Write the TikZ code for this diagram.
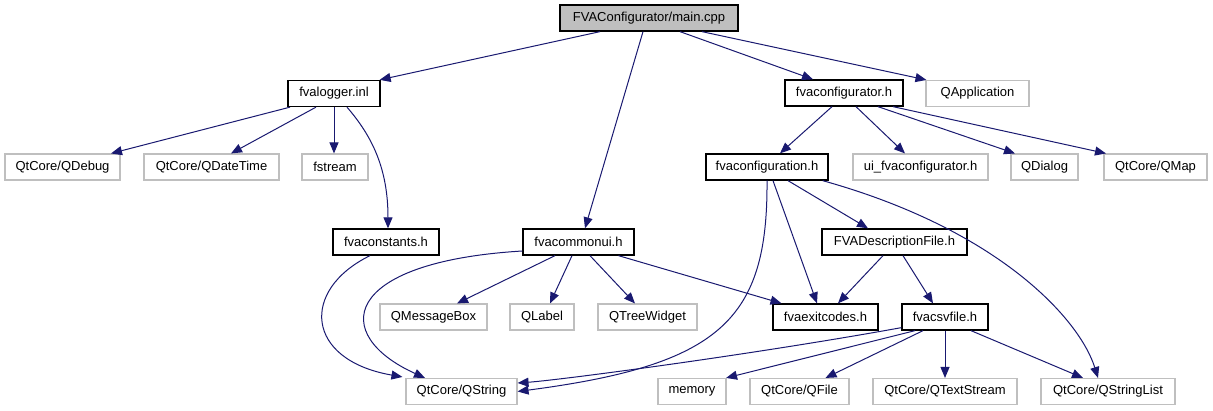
\documentclass[tikz,border=0pt]{standalone}
\usepackage{fontspec}
\setmainfont{Liberation Sans}
\usetikzlibrary{arrows.meta}
\definecolor{edgecol}{HTML}{191970}
\definecolor{lightgr}{HTML}{BFBFBF}
\tikzset{
  filebox/.style={draw=black, line width=1.3pt, inner sep=0pt, minimum height=26pt, font=\fontsize{13}{15}\selectfont, text=black},
  extbox/.style={draw=lightgr, line width=1.1pt, inner sep=0pt, minimum height=26pt, font=\fontsize{13}{15}\selectfont, text=black},
  rootbox/.style={filebox, fill=lightgr},
  dep/.style={draw=edgecol, line width=1pt, -{Triangle[length=11pt,width=9pt]}}
}
\begin{document}
\begin{tikzpicture}[x=1pt, y=-1pt]
\useasboundingbox (0,0) rectangle (1213,411);
% row 0
\node[rootbox, minimum width=178pt] (main) at (649,18) {FVAConfigurator/main.cpp};
% row 1
\node[filebox, minimum width=92pt] (logger) at (334,93.5) {fvalogger.inl};
\node[filebox, minimum width=118pt] (configurator) at (844,93) {fvaconfigurator.h};
\node[extbox, minimum width=103pt] (qapp) at (977.5,93.5) {QApplication};
% row 2
\node[extbox, minimum width=115pt] (qdebug) at (62.5,167) {QtCore/QDebug};
\node[extbox, minimum width=135pt] (qdatetime) at (211.5,167) {QtCore/QDateTime};
\node[extbox, minimum width=66pt] (fstream) at (335,167) {fstream};
\node[filebox, minimum width=122pt] (configuration) at (767,167) {fvaconfiguration.h};
\node[extbox, minimum width=135pt] (uiconf) at (920.5,167) {ui\_fvaconfigurator.h};
\node[extbox, minimum width=67pt] (qdialog) at (1044.5,167) {QDialog};
\node[extbox, minimum width=103pt] (qmap) at (1155.5,167) {QtCore/QMap};
% row 3
\node[filebox, minimum width=106pt] (constants) at (386,242) {fvaconstants.h};
\node[filebox, minimum width=111pt] (commonui) at (578.5,242) {fvacommonui.h};
\node[filebox, minimum width=145pt] (descr) at (894.5,242) {FVADescriptionFile.h};
% row 4
\node[extbox, minimum width=107pt] (qmsgbox) at (433.5,317) {QMessageBox};
\node[extbox, minimum width=64pt] (qlabel) at (542,317) {QLabel};
\node[extbox, minimum width=99pt] (qtree) at (647.5,317) {QTreeWidget};
\node[filebox, minimum width=105pt] (exitcodes) at (825.5,317) {fvaexitcodes.h};
\node[filebox, minimum width=86pt] (csvfile) at (945,317) {fvacsvfile.h};
% row 5
\node[extbox, minimum width=111pt] (qstring) at (461.5,391.5) {QtCore/QString};
\node[extbox, minimum width=68pt] (memory) at (692,391.5) {memory};
\node[extbox, minimum width=99pt] (qfile) at (799.5,391.5) {QtCore/QFile};
\node[extbox, minimum width=144pt] (qtextstream) at (945,391.5) {QtCore/QTextStream};
\node[extbox, minimum width=134pt] (qstringlist) at (1108,391.5) {QtCore/QStringList};

% main.cpp
\draw[dep] ([xshift=-49pt]main.south) -- ([xshift=-1pt]logger.north east);
\draw[dep] ([xshift=-6pt]main.south) -- ([xshift=6.5pt]commonui.north);
\draw[dep] ([xshift=31pt]main.south) -- ([xshift=-31pt]configurator.north);
\draw[dep] ([xshift=53pt]main.south) -- ([xshift=1pt]qapp.north west);
% fvalogger.inl
\draw[dep] ([xshift=-44pt]logger.south) -- ([xshift=48.5pt]qdebug.north);
\draw[dep] ([xshift=-18pt]logger.south) -- ([xshift=19.5pt]qdatetime.north);
\draw[dep] (logger.south) -- (logger.south |- fstream.north);
\draw[dep] ([xshift=13pt]logger.south) .. controls +(25,29) and +(0,-60) .. ([xshift=2pt]constants.north);
% fvaconfigurator.h
\draw[dep] ([xshift=-12pt]configurator.south) -- ([xshift=13pt]configuration.north);
\draw[dep] ([xshift=12pt]configurator.south) -- ([xshift=-15.5pt]uiconf.north);
\draw[dep] ([xshift=34pt]configurator.south) -- ([xshift=-29.5pt]qdialog.north);
\draw[dep] ([xshift=49pt]configurator.south) -- ([xshift=-49.5pt]qmap.north);
% fvaconstants.h
\draw[dep] ([xshift=-16pt]constants.south) .. controls (300,290) and (305,360) .. ([xshift=-3pt,yshift=1pt]qstring.north west);
% fvacommonui.h
\draw[dep] ([yshift=-9pt]commonui.west) .. controls (340,262) and (330,335) .. ([xshift=-36.5pt]qstring.north);
\draw[dep] ([xshift=-23.5pt]commonui.south) -- ([xshift=23.5pt]qmsgbox.north);
\draw[dep] ([xshift=-6.5pt]commonui.south) -- ([xshift=8pt]qlabel.north);
\draw[dep] ([xshift=11.5pt]commonui.south) -- ([xshift=-12.5pt]qtree.north);
\draw[dep] ([xshift=40pt]commonui.south) -- ([xshift=-44pt]exitcodes.north);
% fvaconfiguration.h
\draw[dep] (configuration.south) .. controls (768,320) and (720,365) .. (qstring.east);
\draw[dep] ([xshift=6pt]configuration.south) -- ([xshift=-8.5pt]exitcodes.north);
\draw[dep] ([xshift=21pt]configuration.south) -- ([xshift=-26.5pt]descr.north);
\draw[dep] ([xshift=-6pt]configuration.south east) .. controls (1000,230) and (1080,320) .. ([xshift=-10pt]qstringlist.north);
% FVADescriptionFile.h
\draw[dep] ([xshift=-11.5pt]descr.south) -- ([xshift=12.5pt]exitcodes.north);
\draw[dep] ([xshift=8.5pt]descr.south) -- ([xshift=-12pt]csvfile.north);
% fvacsvfile.h
\draw[dep] ([yshift=3pt]csvfile.south west) .. controls (750,355) and (560,380) .. ([yshift=8.5pt]qstring.east);
\draw[dep] ([xshift=-30pt]csvfile.south) -- ([xshift=-0.5pt]memory.north east);
\draw[dep] ([xshift=-22pt]csvfile.south) -- ([xshift=26pt]qfile.north);
\draw[dep] (csvfile.south) -- (qtextstream.north);
\draw[dep] ([xshift=26pt]csvfile.south) -- ([xshift=-25pt]qstringlist.north);
\end{tikzpicture}
\end{document}
